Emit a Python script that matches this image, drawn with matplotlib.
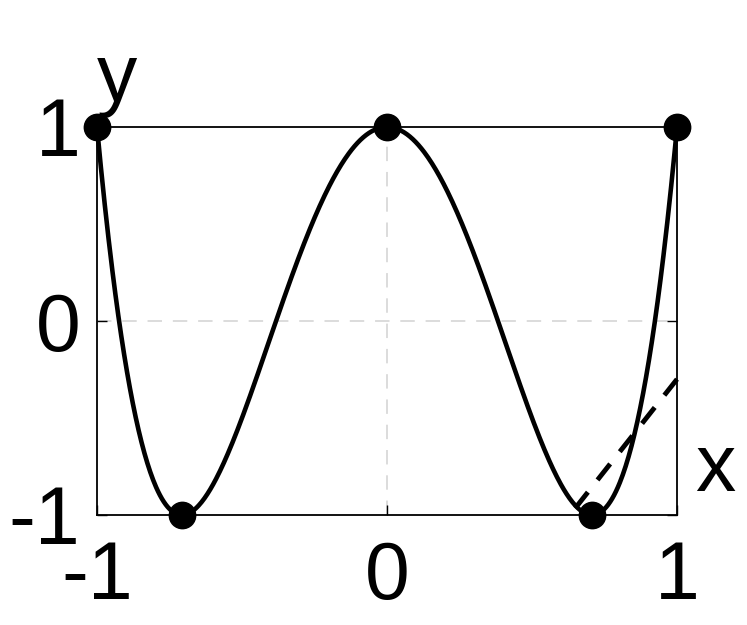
import numpy as np
import matplotlib
matplotlib.use("Agg")
import matplotlib.pyplot as plt

plt.rcParams['font.family'] = ['Liberation Sans', 'DejaVu Sans']

# Chebyshev T4 coefficients (ascending powers): 1 - 8x^2 + 8x^4
curve_coeffs = [1, 0, -8, 0, 8]
point_x = [-1.0, -0.7071, 0.0, 0.7071, 1.0]
point_y = [1.0, -1.0, 1.0, -1.0, 1.0]
dash_x = [1.0, 0.62]
dash_y = [-0.30, -1.02]
xticks = [-1, 0, 1]
yticks = [-1, 0, 1]

fig = plt.figure(figsize=(7.47, 6.25), dpi=100)
ax = fig.add_axes([97/747, 1-515/625, (677-97)/747, (515-127)/625])

xs = np.linspace(-1, 1, 600)
ys = np.polynomial.polynomial.polyval(xs, curve_coeffs)

ax.axhline(0, color='#d9d9d9', lw=1.3, ls=(0, (8, 6)), zorder=0)
ax.axvline(0, color='#d9d9d9', lw=1.3, ls=(0, (8, 6)), zorder=0)

ax.plot(xs, ys, color='black', lw=3.3, clip_on=False, zorder=3)
ax.plot(dash_x, dash_y, color='black', lw=3.5, ls=(0, (4.2, 3.2)), clip_on=False, zorder=3)
ax.plot(point_x, point_y, 'o', color='black', ms=19, clip_on=False, zorder=4)

ax.set_xlim(-1, 1)
ax.set_ylim(-1, 1)
ax.set_xticks(xticks)
ax.set_yticks(yticks)
ax.set_xticklabels([str(t) for t in xticks])
ax.set_yticklabels([str(t) for t in yticks])
ax.tick_params(axis='both', direction='in', length=7, width=1, labelsize=58, top=True, right=True)
ax.tick_params(axis='x', pad=18)
ax.tick_params(axis='y', pad=12)
for s in ax.spines.values():
    s.set_linewidth(1.3)

fig.text(117/747, 1-80/625, 'y', fontsize=58, ha='center', va='center')
fig.text(715/747, 1-470/625, 'x', fontsize=58, ha='center', va='center')

fig.savefig('out.png', dpi=100)
